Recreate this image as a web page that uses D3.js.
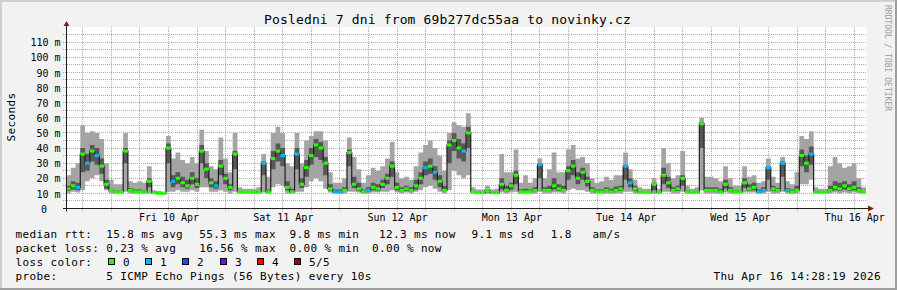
<!DOCTYPE html>
<html>
<head>
<meta charset="utf-8">
<script src="https://cdn.jsdelivr.net/npm/d3@7"></script>
<style>
  body { margin: 0; background: #f2f2f2; }
  svg { display: block; }
  text { font-family: 'DejaVu Sans Mono', monospace; fill: #000; }
</style>
</head>
<body>
<div id="chart"></div>
<script>
// one value per hour, starting Thu 9 Apr 14:28:19, values in ms
let medianRtt = [13, 15, 14, 36, 30, 38, 35, 28, 16, 12, 11, 11, 38, 12, 11, 11, 11, 18, 10.5, 10,
  10, 40, 18, 20, 17, 15, 20, 16, 38, 26, 17, 15, 28, 20, 14, 36, 11, 10.8, 10.8, 10.8,
  11, 30, 11, 33, 38, 35, 14, 11, 36, 16, 27, 35, 42, 40, 30, 13, 11, 11, 12, 37,
  16, 13, 11, 12, 14, 13, 16, 20, 28, 14, 12, 13, 12, 15, 20, 27, 28, 24, 18, 12,
  42, 45, 40, 38, 50, 11, 10.5, 10.5, 12, 10.5, 10.5, 16, 12, 15, 22, 11, 11, 11, 12, 29,
  12, 12, 15, 13, 12, 25, 28, 20, 24, 18, 12, 11, 11, 12, 11, 12, 13, 28, 17, 13,
  11, 10.8, 10.8, 16, 10.8, 22, 17, 12, 13, 20, 11, 10.8, 11, 56, 12, 12, 12, 11, 16, 12,
  11, 11, 17, 13, 14, 11, 12, 27, 13, 12, 30, 12, 11, 12, 35, 30, 36, 11, 10.8, 10.8,
  12, 14, 13, 15, 13, 14, 12, 11]
let pingMin = [10, 11, 10.5, 12, 18, 20, 22, 18, 12, 10, 10, 10, 11, 10, 10, 10, 10, 10, 9.8, 9.5,
  9.5, 11, 11, 12, 11, 11, 12, 11, 14, 14, 11, 11, 12, 11, 10, 11, 10, 10, 10, 10,
  10, 10.5, 10, 14, 16, 15, 10, 10, 11, 11, 14, 18, 20, 18, 13, 10.5, 10, 10, 10, 11,
  11, 10.5, 10, 10, 10.5, 10.5, 11, 11, 12, 10.5, 10, 10.5, 10, 11, 12, 14, 15, 13, 11, 10,
  12, 25, 22, 20, 22, 10, 10, 10, 10, 10, 10, 10.5, 10, 10.5, 11, 10, 10, 10, 10, 11,
  10, 10, 10.5, 10.5, 10, 12, 13, 12, 12, 11, 10, 10, 10, 10, 10, 10, 10, 11, 11, 10,
  10, 10, 10, 10, 10, 11, 11, 10, 10, 11, 10, 10, 10, 12, 10, 10, 10, 10, 10.5, 10,
  10, 10, 10.5, 10.5, 10.5, 10, 10, 11, 10, 10, 11, 10, 10, 10, 16, 16, 19, 10, 10, 10,
  10, 10.5, 10, 10.5, 10, 10.5, 10, 10]
let pingLow = [11.5, 12.5, 12, 24, 25, 31, 29, 23, 13, 11, 10.5, 10.5, 30, 11, 10.5, 10.5, 10.5, 14, 10, 9.8,
  9.8, 30, 14, 16, 14, 13, 16, 13.5, 30, 20, 14, 13, 22, 16, 12, 26, 10.5, 10.3, 10.3, 10.3,
  10.5, 22, 10.5, 26, 31, 28, 12, 10.5, 26, 13.5, 21, 29, 34, 32, 22, 11.5, 10.5, 10.5, 11, 28,
  13.5, 11.5, 10.5, 11, 12, 11.5, 13.5, 16, 21, 12, 11, 11.5, 11, 12.5, 16, 22, 23, 19, 14, 11,
  30, 38, 33, 31, 40, 10.5, 10.2, 10.2, 10.8, 10.2, 10.2, 12.5, 11, 12.5, 16, 10.5, 10.5, 10.5, 11, 20,
  11, 11, 12.5, 11.5, 11, 19, 22, 16, 19, 14.5, 11, 10.5, 10.5, 11, 10.5, 11, 11.5, 19, 14, 11.5,
  10.5, 10.3, 10.3, 12, 10.3, 16, 13.5, 11, 11.5, 15, 10.5, 10.3, 10.5, 40, 11, 11, 11, 10.5, 13, 11,
  10.5, 10.5, 13.5, 11.5, 12, 10.5, 11, 19, 11.5, 11, 21, 11, 10.5, 11, 28, 24, 29, 10.5, 10.3, 10.3,
  11, 12, 11.5, 12.5, 11.5, 12, 11, 10.5]
let pingHigh = [15, 18, 17, 40, 36, 42, 40, 33, 19, 13, 12, 12, 40, 13.5, 12.5, 12.5, 12, 20, 11, 10.5,
  10.5, 43, 22, 24, 21, 19, 24, 20, 42, 30, 20, 18, 32, 23, 16, 38, 11.8, 11.3, 11.3, 11.3,
  11.8, 31, 12.5, 38, 43, 40, 18, 13, 40, 20, 32, 40, 46, 44, 34, 16, 12.5, 12.5, 14, 39,
  21, 17, 12.5, 14, 17, 16, 19, 23, 31, 17, 14, 15, 14, 19, 24, 31, 33, 28, 22, 15,
  45, 50, 46, 43, 54, 11.8, 10.9, 10.9, 12.8, 10.9, 11.2, 20, 15, 17, 25, 12.5, 13, 12.5, 14, 30,
  14, 15, 20, 16, 15, 28, 32, 24, 27, 21, 14, 12.5, 12.5, 14, 13, 14.5, 15, 29, 20, 15,
  11.8, 11.3, 11.3, 17, 11.3, 27, 21, 14, 15, 22, 12, 11.3, 11.8, 57, 14, 14, 14, 13, 19, 14,
  12, 12, 20, 16, 17, 12.5, 14, 28, 15, 13.5, 31, 13.5, 12.5, 15, 39, 35, 41, 11.8, 11.3, 11.3,
  15, 18, 17, 18, 16, 18, 14, 11.8]
let pingMax = [22, 27, 30, 55, 50, 51, 50, 46, 30, 19, 16, 16, 50, 18, 17, 18, 17, 28, 12, 11.5,
  11, 48, 33, 37, 32, 30, 34, 30, 52, 38, 28, 26, 47, 33, 24, 50, 14, 13, 13, 13,
  14, 36, 21, 50, 54, 50, 30, 28, 50, 30, 45, 48, 51, 51, 45, 24, 17, 17, 20, 47,
  34, 26, 17, 22, 27, 25, 28, 33, 44, 24, 20, 21, 19, 28, 37, 42, 45, 40, 35, 25,
  50, 57, 55, 54, 63, 14, 12.5, 12.5, 15, 12.5, 13, 36, 24, 24, 39, 17, 22, 17, 20, 33,
  20, 26, 37, 24, 24, 39, 42, 33, 34, 30, 20, 17, 18, 21, 19, 22, 22, 37, 26, 19,
  14, 13, 13, 20, 13, 40, 30, 20, 22, 38, 15, 13, 14, 60, 21, 21, 20, 18, 28, 20,
  15, 15, 28, 21, 22, 17, 18, 33, 21, 17, 34, 18, 16, 24, 48, 46, 51, 14, 13, 13,
  28, 34, 30, 27, 28, 30, 20, 14]
let lossCount = [0, 0, 1, 0, 1, 0, 1, 0, 0, 0, 0, 0, 0, 0, 0, 0, 0, 0, 0, 0,
  0, 0, 1, 0, 0, 0, 0, 0, 0, 0, 0, 1, 0, 0, 0, 0, 0, 0, 0, 0,
  0, 1, 0, 0, 0, 1, 0, 0, 1, 0, 0, 0, 0, 0, 0, 0, 1, 1, 0, 0,
  0, 0, 0, 1, 0, 0, 0, 0, 0, 0, 0, 0, 0, 0, 0, 1, 0, 1, 0, 0,
  0, 0, 0, 1, 0, 0, 0, 0, 0, 0, 0, 0, 0, 0, 0, 0, 0, 0, 0, 1,
  0, 0, 0, 0, 0, 0, 0, 0, 0, 0, 0, 0, 0, 0, 0, 0, 0, 1, 1, 0,
  0, 0, 0, 0, 0, 0, 0, 0, 0, 0, 0, 0, 0, 0, 0, 0, 0, 0, 0, 0,
  0, 0, 0, 0, 0, 1, 1, 1, 0, 0, 1, 1, 0, 0, 0, 0, 1, 0, 0, 0,
  0, 0, 0, 0, 0, 0, 0, 0]

let lossLabels = ['0', '1', '2', '3', '4', '5/5']
let lossColors = ['#26ff00', '#00b8ff', '#0059ff', '#7e00ff', '#ff0000', '#a10000']
let yLabelTicks = [0, 10, 20, 30, 40, 50, 60, 70, 80, 90, 100, 110]
let rttLegend = ['15.8 ms avg', '55.3 ms max', '9.8 ms min', '12.3 ms now', '9.1 ms sd', '1.8', 'am/s']
let lossLegend = ['0.23 % avg', '16.56 % max', '0.00 % min', '0.00 % now']

var width = 897
var height = 290
var plot = { left: 66, right: 866, top: 27, bottom: 208.5 }

var svg = d3
  .select('#chart')
  .append('svg')
  .attr('width', width)
  .attr('height', height)

// background and 3d frame
svg.append('rect').attr('width', width).attr('height', height).attr('fill', '#f2f2f2')
svg.append('path').attr('d', `M0,${height} V0 H${width}`).attr('fill', 'none')
  .attr('stroke', '#cfcfcf').attr('stroke-width', 4)
svg.append('path').attr('d', `M0,${height} H${width} V0`).attr('fill', 'none')
  .attr('stroke', '#9e9e9e').attr('stroke-width', 4)

let start = new Date(Date.UTC(2026, 3, 9, 14, 28, 19))
let end = new Date(Date.UTC(2026, 3, 16, 14, 28, 19))

let xPositionScale = d3.scaleUtc().domain([start, end]).range([plot.left, plot.right])
let yPositionScale = d3.scaleLinear().domain([0, 120]).range([plot.bottom, plot.top])

// canvas
svg.append('rect')
  .attr('x', plot.left).attr('y', plot.top)
  .attr('width', plot.right - plot.left + 1).attr('height', plot.bottom - plot.top)
  .attr('fill', '#fff')

let crisp = v => Math.floor(v) + 0.5

/* grid */
let grid = svg.append('g').attr('class', 'grid')
let hTicks = d3.range(5, 120, 5)
grid.selectAll('.hgrid')
  .data(hTicks)
  .enter()
  .append('line')
  .attr('x1', plot.left - 3).attr('x2', plot.right + 1)
  .attr('y1', d => crisp(yPositionScale(d))).attr('y2', d => crisp(yPositionScale(d)))
  .attr('stroke', d => d % 10 === 0 ? 'rgba(222,79,79,0.6)' : 'rgba(143,143,143,0.75)')
  .attr('stroke-dasharray', '1,1')

let minorTimes = d3.utcHour.every(6).range(start, end)
grid.selectAll('.vgrid')
  .data(minorTimes)
  .enter()
  .append('line')
  .attr('x1', d => crisp(xPositionScale(d))).attr('x2', d => crisp(xPositionScale(d)))
  .attr('y1', plot.top).attr('y2', plot.bottom + 3)
  .attr('stroke', d => d.getUTCHours() === 0 ? 'rgba(222,79,79,0.6)' : 'rgba(143,143,143,0.75)')
  .attr('stroke-dasharray', '1,1')

/* smoke + median */
let rows = medianRtt.map((m, i) => ({
  t: new Date(+start + i * 3600e3),
  med: m,
  min: pingMin[i],
  low: pingLow[i],
  high: pingHigh[i],
  max: pingMax[i],
  loss: lossCount[i]
}))
let stepRows = rows.concat([Object.assign({}, rows[rows.length - 1], { t: end })])

let band = (lo, hi) => d3.area()
  .curve(d3.curveStepAfter)
  .x(d => xPositionScale(d.t))
  .y0(d => yPositionScale(d[lo]))
  .y1(d => yPositionScale(d[hi]))

svg.append('path').datum(stepRows).attr('d', band('min', 'max')).attr('fill', '#a4a4a4')
svg.append('path').datum(stepRows).attr('d', band('low', 'high')).attr('fill', '#585858')

let medianLine = d3.line()
  .curve(d3.curveStepAfter)
  .x(d => xPositionScale(d.t))
  .y(d => yPositionScale(d.med))

svg.append('path').datum(stepRows).attr('d', medianLine)
  .attr('fill', 'none').attr('stroke', '#202020').attr('stroke-width', 1.2)

svg.selectAll('.loss-mark')
  .data(rows)
  .enter()
  .append('rect')
  .attr('x', d => xPositionScale(d.t))
  .attr('width', d => xPositionScale(new Date(+d.t + 3600e3)) - xPositionScale(d.t))
  .attr('y', d => yPositionScale(d.med) - 1.5)
  .attr('height', 3)
  .attr('fill', d => lossColors[d.loss])

/* axes */
var yAxis = d3.axisLeft(yPositionScale)
  .tickValues(yLabelTicks)
  .tickFormat(d => d === 0 ? '0' : d + ' m')
  .tickSize(0)
  .tickPadding(6)
let yAxisG = svg.append('g')
  .attr('class', 'axis y-axis')
  .attr('transform', `translate(${plot.left + 0.5},0.5)`)
  .call(yAxis)
yAxisG.select('.domain').remove()
yAxisG.selectAll('text').attr('font-size', 10).attr('font-family', 'DejaVu Sans Mono')
yAxisG.selectAll('text').filter(d => d === 0).attr('x', -19.5)

let noons = d3.utcDay.range(start, end).map(d => d3.utcHour.offset(d, 12)).filter(d => d > start && d < end)
var xAxis = d3.axisBottom(xPositionScale)
  .tickValues(noons)
  .tickFormat(d3.utcFormat('%a %d %b'))
  .tickSize(0)
  .tickPadding(5)
let xAxisG = svg.append('g')
  .attr('class', 'axis x-axis')
  .attr('transform', `translate(0,${plot.bottom})`)
  .call(xAxis)
xAxisG.select('.domain').remove()
xAxisG.selectAll('text').attr('font-size', 10).attr('font-family', 'DejaVu Sans Mono')

// axis lines and arrows
svg.append('line')
  .attr('x1', plot.left - 3).attr('x2', plot.right + 4)
  .attr('y1', plot.bottom).attr('y2', plot.bottom)
  .attr('stroke', '#1f1f1f')
svg.append('line')
  .attr('x1', plot.left + 0.5).attr('x2', plot.left + 0.5)
  .attr('y1', plot.bottom + 3).attr('y2', plot.top - 2)
  .attr('stroke', '#1f1f1f')
svg.append('path')
  .attr('d', `M${plot.right + 2},${plot.bottom - 3} L${plot.right + 8},${plot.bottom} L${plot.right + 2},${plot.bottom + 3} Z`)
  .attr('fill', '#801f1f')
svg.append('path')
  .attr('d', `M${plot.left - 2.5},${plot.top - 1} L${plot.left + 0.5},${plot.top - 6} L${plot.left + 3.5},${plot.top - 1} Z`)
  .attr('fill', '#801f1f')

/* titles */
svg.append('text')
  .attr('x', width / 2 - 1).attr('y', 24)
  .attr('text-anchor', 'middle')
  .attr('font-size', 13)
  .attr('letter-spacing', 0.15)
  .text('Posledni 7 dni from 69b277dc55aa to novinky.cz')

svg.append('text')
  .attr('transform', 'translate(15,117) rotate(-90)')
  .attr('text-anchor', 'middle')
  .attr('font-size', 11)
  .attr('letter-spacing', 0.35)
  .text('Seconds')

svg.append('text')
  .attr('transform', 'translate(884.5,5) rotate(90)')
  .attr('font-size', 8)
  .style('fill', '#9a9a9a')
  .text('RRDTOOL / TOBI OETIKER')

/* legend */
let legend = svg.append('g')
  .attr('class', 'legend')
  .attr('font-size', 11)
  .attr('letter-spacing', 0.36)

let rttX = [106.3, 199.2, 289.5, 379, 471.5, 550.7, 592.5]
let lossX = [106.3, 199.2, 289.5, 372]

legend.append('text').attr('x', 15.5).attr('y', 238.3).text('median rtt:')
legend.selectAll('.rtt').data(rttLegend).enter().append('text')
  .attr('x', (d, i) => rttX[i]).attr('y', 238.3).text(d => d)

legend.append('text').attr('x', 15.5).attr('y', 252.3).text('packet loss:')
legend.selectAll('.pl').data(lossLegend).enter().append('text')
  .attr('x', (d, i) => lossX[i]).attr('y', 252.3).text(d => d)

legend.append('text').attr('x', 15.5).attr('y', 266.3).text('loss color:')
legend.selectAll('.swatch').data(lossLabels).enter().append('rect')
  .attr('x', (d, i) => Math.round(108 + i * 37.2) + 0.5).attr('y', 258.5)
  .attr('width', 6).attr('height', 6)
  .attr('fill', (d, i) => lossColors[i]).attr('stroke', '#000')
legend.selectAll('.swatch-label').data(lossLabels).enter().append('text')
  .attr('x', (d, i) => Math.round(108 + i * 37.2) + 15).attr('y', 266.3).text(d => d)

legend.append('text').attr('x', 15.5).attr('y', 280.3).text('probe:')
legend.append('text').attr('x', 106.3).attr('y', 280.3).text('5 ICMP Echo Pings (56 Bytes) every 10s')
legend.append('text').attr('x', 881).attr('y', 280.3).attr('text-anchor', 'end').text('Thu Apr 16 14:28:19 2026')
</script>
